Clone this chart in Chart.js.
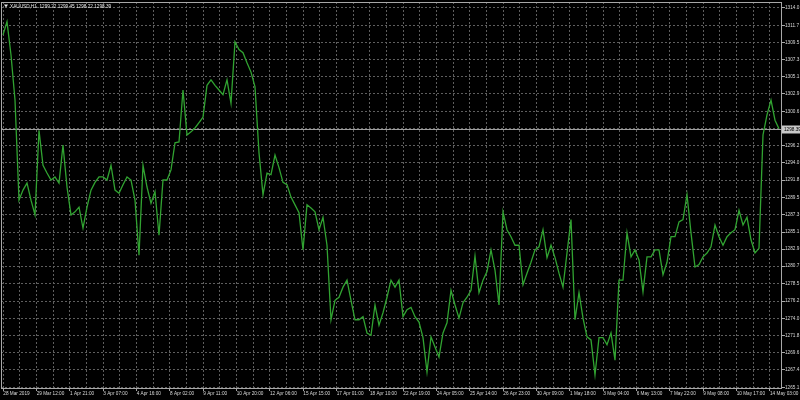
<!DOCTYPE html>
<html>
<head>
<meta charset="utf-8">
<script src="https://cdn.jsdelivr.net/npm/chart.js@4.4.1/dist/chart.umd.min.js"></script>
<style>
  html, body { margin: 0; padding: 0; background: #000; }
  #wrap { width: 800px; height: 400px; }
</style>
</head>
<body>
<div id="wrap"><canvas id="myChart"></canvas></div>
<script>
const symbol = 'XAUUSD,H1';
const lastQuote = [1299.22, 1299.45, 1298.22, 1298.39]; // open high low close

// date labels on the time axis, one every second grid line
const dateLabels = [
    '28 Mar 2019', '29 Mar 12:00', '1 Apr 21:00', '3 Apr 07:00', '4 Apr 16:00',
    '8 Apr 02:00', '9 Apr 11:00', '10 Apr 20:00', '12 Apr 06:00', '15 Apr 15:00',
    '17 Apr 01:00', '18 Apr 10:00', '22 Apr 19:00', '24 Apr 05:00', '25 Apr 14:00',
    '26 Apr 23:00', '30 Apr 09:00', '1 May 18:00', '3 May 04:00', '6 May 13:00',
    '7 May 22:00', '9 May 08:00', '10 May 17:00', '14 May 03:00'
];

// price scale labels
const priceTicks = [
    1265.1, 1267.4, 1269.6, 1271.8, 1274.0, 1276.2, 1278.5, 1280.7, 1282.9, 1285.1,
    1287.3, 1289.5, 1291.8, 1294.0, 1296.2, 1298.4, 1300.6, 1302.9, 1305.1, 1307.3,
    1309.5, 1311.7, 1314.0
];

// closes, sampled every 4 hourly bars
const closePrices = [
    1310.5, 1312.2, 1307.9, 1302.1, 1289.2, 1290.5, 1291.4, 1289.2, 1287.3, 1298.2,
    1293.7, 1292.7, 1291.8, 1292.2, 1291.4, 1296.3, 1290.9, 1287.3, 1287.7, 1288.3,
    1285.6, 1288.3, 1290.5, 1291.5, 1292.2, 1292.2, 1291.8, 1293.7, 1290.5, 1290.1,
    1291.2, 1292.2, 1291.8, 1289.2, 1282.1, 1293.7, 1290.9, 1288.8, 1290.3, 1284.7,
    1291.8, 1291.8, 1293.1, 1296.6, 1296.7, 1303.4, 1297.6, 1298.0, 1298.5, 1299.2,

    1299.9, 1304.0, 1304.7, 1304.0, 1303.4, 1302.8, 1304.7, 1301.7, 1309.6, 1308.6,
    1308.2, 1306.9, 1305.7, 1303.8, 1295.3, 1289.9, 1292.7, 1292.5, 1295.0, 1293.4,
    1291.5, 1291.2, 1289.6, 1288.6, 1287.6, 1282.8, 1288.6, 1288.2, 1287.7, 1285.4,
    1287.0, 1283.4, 1273.8, 1276.3, 1276.7, 1278.0, 1278.9, 1276.3, 1273.8, 1273.8,
    1274.2, 1272.1, 1271.8, 1275.7, 1273.1, 1274.7, 1276.7, 1278.9, 1278.0,

    1278.9, 1274.2, 1275.1, 1275.4, 1274.2, 1273.5, 1271.5, 1267.1, 1271.6, 1270.3,
    1269.0, 1272.1, 1273.4, 1277.6, 1275.7, 1274.0, 1276.0, 1276.7, 1277.6, 1282.0,
    1277.3, 1278.9, 1280.0, 1282.8, 1280.2, 1275.7, 1287.7, 1285.4, 1284.5, 1283.4,
    1283.4, 1278.3, 1279.8, 1281.2, 1282.8, 1283.2, 1285.4, 1281.8, 1283.4, 1281.8,
    1279.8, 1278.0, 1282.4, 1286.7, 1273.8, 1277.3, 1274.0, 1271.6,

    1271.2, 1266.7, 1271.5, 1271.5, 1270.6, 1272.1, 1268.6, 1278.9, 1278.9, 1285.0,
    1281.9, 1282.8, 1281.5, 1277.4, 1281.9, 1281.9, 1282.8, 1282.8, 1279.6, 1281.2,
    1284.5, 1284.5, 1286.4, 1286.7, 1289.9, 1285.0, 1280.6, 1280.9, 1281.9, 1282.4,
    1283.2, 1286.0, 1284.5, 1283.4, 1284.5, 1285.0, 1285.4, 1287.9, 1286.0, 1287.0,
    1284.1, 1282.4, 1283.0, 1297.6, 1300.2, 1302.1, 1299.5, 1298.4
];

const barStep = 4;
const firstBar = 2;
const visibleBars = 781;
const gridEvery = 16.667; // bars between grid lines

const fontFamily = '"Liberation Sans", Arial, sans-serif';
const gridColor = '#5e5e5e';
const textColor = '#d8d8d8';

// MT4 style frame, bid line and header text
const mtDecor = {
    id: 'mtDecor',
    beforeDatasetsDraw(chart) {
        const {ctx, chartArea: a, scales: {y}} = chart;
        const py = Math.round(y.getPixelForValue(lastQuote[3])) + 0.5;
        ctx.save();
        ctx.strokeStyle = '#a0a0a0';
        ctx.lineWidth = 1;
        ctx.beginPath();
        ctx.moveTo(a.left, py);
        ctx.lineTo(a.right, py);
        ctx.stroke();
        ctx.restore();
    },
    afterDraw(chart) {
        const {ctx, chartArea: a, scales: {y}} = chart;
        ctx.save();
        ctx.strokeStyle = '#a8a8a8';
        ctx.lineWidth = 1;
        ctx.strokeRect(a.left + 0.5, a.top + 0.5, a.right - a.left - 1, a.bottom - a.top);

        // bid price box
        const py = Math.round(y.getPixelForValue(lastQuote[3])) + 0.5;
        ctx.fillStyle = '#c8c8c8';
        ctx.fillRect(a.right, py - 4, chart.width - a.right, 8);
        ctx.fillStyle = '#000';
        ctx.font = '4.7px ' + fontFamily;
        ctx.textBaseline = 'middle';
        ctx.textAlign = 'left';
        ctx.fillText(lastQuote[3].toFixed(2), a.right + 2, py);

        // header
        ctx.fillStyle = '#e6e6e6';
        ctx.beginPath();
        ctx.moveTo(4, 4.5);
        ctx.lineTo(8, 4.5);
        ctx.lineTo(6, 7.5);
        ctx.closePath();
        ctx.fill();
        ctx.fillText(symbol + '  ' + lastQuote.map(v => v.toFixed(2)).join(' '), 10, 6.5);
        ctx.restore();
    }
};

const ctx = document.getElementById('myChart');
const myChart = new Chart(ctx, {
    type: 'line',
    data: {
        datasets: [{
            data: closePrices.map((p, i) => ({x: firstBar + i * barStep, y: p})),
            borderColor: '#31a331',
            borderWidth: 1.3,
            pointRadius: 0,
            tension: 0
        }]
    },
    options: {
        responsive: true,
        maintainAspectRatio: false,
        animation: false,
        layout: { padding: { left: 1, top: 2, right: 0, bottom: 0 } },
        plugins: {
            legend: { display: false },
            tooltip: { enabled: false }
        },
        scales: {
            x: {
                type: 'linear',
                position: 'bottom',
                min: 0,
                max: visibleBars,
                afterBuildTicks: (scale) => {
                    const ticks = [];
                    for (let j = 0; 2.3 + j * gridEvery <= visibleBars; j++) {
                        ticks.push({value: 2.3 + j * gridEvery});
                    }
                    scale.ticks = ticks;
                },
                afterFit: (scale) => {
                    scale.height = 12;
                    scale.paddingLeft = 0;
                    scale.paddingRight = 0;
                },
                grid: {
                    color: gridColor,
                    lineWidth: 1,
                    tickLength: 3,
                    tickColor: (c) => (c.index % 2 === 0 ? '#a8a8a8' : 'rgba(0,0,0,0)')
                },
                border: { display: false, dash: [2, 2] },
                ticks: {
                    autoSkip: false,
                    maxRotation: 0,
                    minRotation: 0,
                    align: 'start',
                    padding: 0,
                    color: textColor,
                    font: { family: fontFamily, size: 4.7 },
                    callback: (v, i) => (i % 2 === 0 ? (dateLabels[i / 2] || '') : '')
                }
            },
            y: {
                type: 'linear',
                position: 'right',
                min: 1265.01,
                max: 1314.73,
                afterBuildTicks: (scale) => {
                    scale.ticks = priceTicks.map(v => ({value: v}));
                },
                afterFit: (scale) => {
                    scale.width = 18;
                    scale.paddingTop = 0;
                    scale.paddingBottom = 0;
                },
                grid: {
                    color: gridColor,
                    lineWidth: 1,
                    tickLength: 3,
                    tickColor: '#a8a8a8'
                },
                border: { display: false, dash: [2, 2] },
                ticks: {
                    padding: 0,
                    color: textColor,
                    font: { family: fontFamily, size: 4.7 },
                    callback: (v) => Number(v).toFixed(1)
                }
            }
        }
    },
    plugins: [mtDecor]
});
</script>
</body>
</html>
